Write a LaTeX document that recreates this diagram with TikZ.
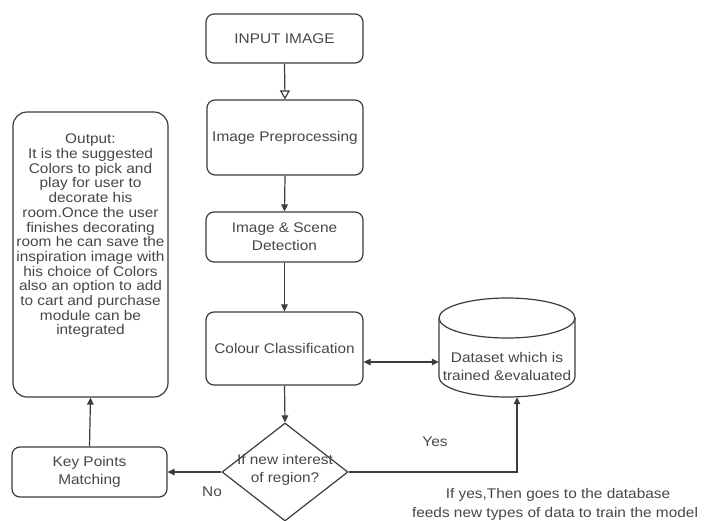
\documentclass[tikz,border=0pt]{standalone}
\usepackage{fontspec}
\setmainfont{Liberation Sans}[FakeStretch=1.1]
\usetikzlibrary{arrows.meta,shapes.geometric,calc}
\definecolor{ln}{HTML}{3C3C3C}
\definecolor{tx}{HTML}{474747}
\begin{document}
\begin{tikzpicture}[x=1pt,y=-1pt,
  box/.style={draw=ln, line width=1.2pt, rounded corners=8pt, align=center, inner sep=0pt, text=tx, font=\fontsize{14}{18}\selectfont},
  lbl/.style={text=tx, align=center, inner sep=0pt, font=\fontsize{14}{18}\selectfont},
  arr/.style={draw=ln, line width=1.2pt, -{Triangle[length=7pt,width=6.5pt]}},
  oarr/.style={draw=ln, line width=1.2pt, -{Triangle[open,length=9pt,width=10pt]}},
  darr/.style={draw=ln, line width=1.2pt, {Triangle[length=7pt,width=6.5pt]}-{Triangle[length=7pt,width=6.5pt]}}]
\useasboundingbox (0,0) rectangle (704,520);
\fill[white] (0,0) rectangle (704,520);

\node[box, minimum width=157pt, minimum height=49pt] (inp) at (284.5,38.5) {INPUT IMAGE};
\node[box, minimum width=156pt, minimum height=75pt] (pre) at (285,137.5) {Image Preprocessing};
\node[box, minimum width=157pt, minimum height=50pt] (scn) at (284.5,237) {Image \& Scene\\Detection};
\node[box, minimum width=157pt, minimum height=73pt] (cc) at (284.5,348.5) {Colour Classification};
\node[draw=ln, line width=1.2pt, diamond, inner sep=0pt, minimum width=126pt, minimum height=98pt] (dia) at (285,472) {};
\node[lbl] (diat) at (285,470) {If new interest\\of region?};
\node[box, minimum width=155pt, minimum height=50pt] (kp) at (89.5,472) {Key Points\\Matching};
\node[box, rounded corners=14pt, minimum width=155pt, minimum height=285pt] (out) at (90.5,254.5) {};
\node[lbl, font=\fontsize{14}{14.7}\selectfont] (outt) at (90.5,236) {Output:\\It is the suggested\\Colors to pick and\\play for user to\\decorate his\\room.Once the user\\finishes decorating\\room he can save the\\inspiration image with\\his choice of Colors\\also an option to add\\to cart and purchase\\module can be\\integrated};

% dataset cylinder
\node[minimum width=136pt, minimum height=99pt, inner sep=0pt] (ds) at (507,347.5) {};
\filldraw[fill=white, draw=ln, line width=1.2pt] (439,318) -- (439,377) arc[start angle=180, end angle=360, x radius=68pt, y radius=20pt] -- (575,318);
\draw[draw=ln, line width=1.2pt, fill=white] (507,318) ellipse [x radius=68pt, y radius=20pt];
\node[lbl] (dst) at (507,366) {Dataset which is\\trained \&evaluated};

\coordinate (yc) at (517,472);
\coordinate (dy) at (0,362);

\draw[oarr] (inp.south) -- (pre.north);
\draw[arr] (pre.south) -- (scn.north);
\draw[arr] (scn.south) -- (cc.north);
\draw[arr] (cc.south) -- (dia.north);
\draw[arr] (dia.west) -- (kp.east);
\draw[arr] (kp.north) -- (out.south);
\draw[arr] (dia.east) -- (yc) -- (yc |- ds.south);
\draw[darr] (cc.east |- dy) -- (ds.west |- dy);

\node[lbl] (no) at (212,492) {No};
\node[lbl] (yes) at (435,442) {Yes};
\node[lbl] (n1) at (558,495) {If yes,Then goes to the database};
\node[lbl] (n2) at (555,514) {feeds new types of data to train the model};
\end{tikzpicture}
\end{document}
